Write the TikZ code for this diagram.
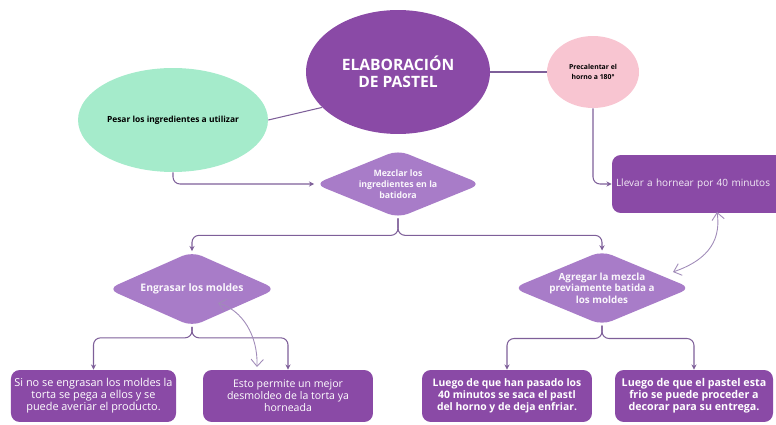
\documentclass[tikz,border=0pt]{standalone}
\usepackage{fontspec}
\setmainfont{Open Sans}
\usetikzlibrary{shapes.geometric, arrows.meta, calc}
\definecolor{deeppurple}{HTML}{8A4AA6}
\definecolor{softpurple}{HTML}{A87CC8}
\definecolor{mint}{HTML}{A5EBCB}
\definecolor{blush}{HTML}{F8C5D1}
\definecolor{linecol}{HTML}{7E5F99}
\definecolor{curvecol}{HTML}{A08BB8}

\begin{document}
\begin{tikzpicture}[x=0.02cm, y=-0.02cm,
  box/.style={fill=deeppurple, rounded corners=5pt, text=white, align=center, inner sep=2pt,
    minimum height=1.04cm, font=\fontsize{6}{6.8}\selectfont},
  rhomb/.style={diamond, aspect=2.4, fill=softpurple, rounded corners=6pt, text=white!94!softpurple,
    align=center, inner sep=0pt, font=\fontsize{5.6}{6.5}\selectfont\bfseries},
  conn/.style={linecol, line width=0.6pt, -{Stealth[length=3pt, width=3pt]}, rounded corners=4pt},
  curv/.style={curvecol, line width=0.5pt, {Straight Barb[length=4pt, width=7pt]}-{Straight Barb[length=4pt, width=7pt]}}]
  \useasboundingbox (0,0) rectangle (776,425);
  \clip (0,0) rectangle (776,425);
  % top row
  \node[ellipse, fill=mint, minimum width=3.8cm, minimum height=2.08cm, inner sep=0pt,
    font=\fontsize{4.8}{6}\selectfont\bfseries] (pesar) at (173,120) {Pesar los ingredientes a utilizar};
  \node[ellipse, fill=deeppurple, minimum width=3.68cm, minimum height=2.48cm, inner sep=0pt,
    text=white, align=center, font=\fontsize{8.9}{10}\selectfont\bfseries] (titulo) at (398,72) {ELABORACIÓN\\DE PASTEL};
  \node[ellipse, fill=blush, minimum width=1.84cm, minimum height=1.44cm, inner sep=0pt,
    align=center, font=\fontsize{3.9}{5.6}\selectfont\bfseries] (precal) at (593,72) {Precalentar el\\horno a 180°};
  \node[box, minimum width=3.56cm, minimum height=1.16cm, text width=3.4cm, align=left,
    text=white!90!deeppurple, font=\fontsize{5.7}{7}\selectfont] (llevar) at (701,184) {Llevar a hornear por 40 minutos};
  % diamonds
  \node[rhomb, minimum width=3.34cm, minimum height=1.36cm,
    font=\fontsize{5}{6.3}\selectfont\bfseries] (mezclar) at (398,184) {Mezclar los\\ingredientes en la\\batidora};
  \node[rhomb, minimum width=3.38cm, minimum height=1.5cm,
    font=\fontsize{5.9}{6.5}\selectfont\bfseries] (engrasar) at (192,289) {Engrasar los moldes};
  \node[rhomb, minimum width=3.26cm, minimum height=1.46cm] (agregar) at (602,288) {Agregar la mezcla\\previamente batida a\\los moldes};
  % bottom boxes
  \node[box, minimum width=3.26cm, font=\fontsize{6.2}{6.8}\selectfont] (molde1) at (93.5,396) {Si no se engrasan los moldes la\\torta se pega a ellos y se\\puede averiar el producto.};
  \node[box, minimum width=3.4cm] (molde2) at (288,396) {Esto permite un mejor\\desmoldeo de la torta ya\\horneada};
  \node[box, minimum width=3.4cm, font=\fontsize{5.9}{6.8}\selectfont\bfseries] (fin1) at (507,396) {Luego de que han pasado los\\40 minutos se saca el pastl\\del horno y de deja enfriar.};
  \node[box, minimum width=3.16cm, font=\fontsize{6.1}{6.8}\selectfont\bfseries] (fin2) at (694,396) {Luego de que el pastel esta\\frio se puede proceder a\\decorar para su entrega.};
  % connectors
  \draw[linecol, line width=0.6pt] (pesar.east) -- (titulo.205);
  \draw[linecol, line width=0.6pt] (titulo.east) -- (precal.west);
  \draw[conn] (precal.south) |- (llevar.west);
  \draw[conn] (pesar.south) |- (mezclar.west);
  \draw[conn] (mezclar.south) -- ++(0,17) -| (engrasar.north);
  \draw[conn] (mezclar.south) -- ++(0,17) -| (agregar.north);
  \draw[conn] (engrasar.south) -- ++(0,11) -| (molde1.north);
  \draw[conn] (engrasar.south) -- ++(0,11) -| (molde2.north);
  \draw[conn] (agregar.south) -- ++(0,13) -| (fin1.north);
  \draw[conn] (agregar.south) -- ++(0,13) -| (fin2.north);
  % curved links
  \coordinate (molde-a) at (218,303);
  \coordinate (molde-b) at (257,367);
  \coordinate (horno-a) at (717,212);
  \coordinate (horno-b) at (673,272);
  \draw[curv] (molde-a) .. controls (242,310) and (258,335) .. (molde-b);
  \draw[curv] (horno-a) .. controls (722,245) and (702,262) .. (horno-b);
\end{tikzpicture}
\end{document}
